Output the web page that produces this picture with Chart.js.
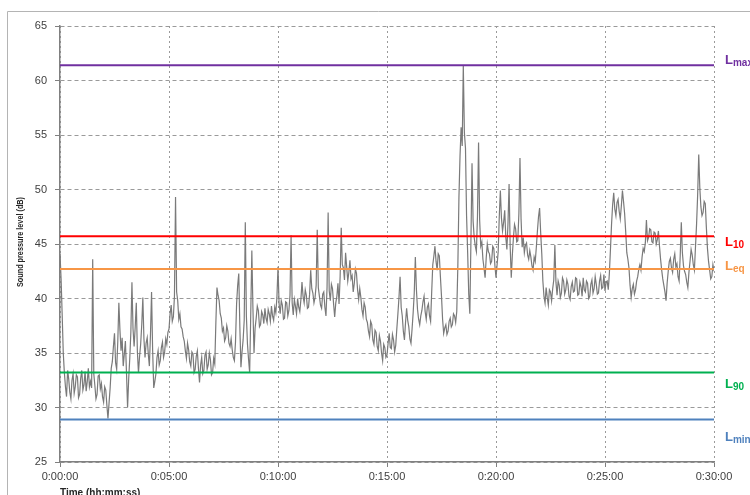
<!DOCTYPE html>
<html>
<head>
<meta charset="utf-8">
<script src="https://cdn.jsdelivr.net/npm/chart.js@4/dist/chart.umd.min.js"></script>
<style>
  html, body { margin: 0; padding: 0; background: #ffffff; }
  #wrap { width: 750px; height: 495px; position: relative; }
</style>
</head>
<body>
<div id="wrap"><canvas id="c" width="750" height="495"></canvas></div>
<script>
// Sampling interval of the measured series (seconds)
const stepSeconds = 3;

// Measured sound pressure level, one value every 3 s from 0:00:00 to 0:30:00 (dB)
const levels = [
  44.1, 41.8, 38.5, 35.0, 33.2, 31.9, 31.0, 33.4, 32.6, 31.4, 30.8, 32.5, 33.1, 31.3, 31.9, 33.0, 32.8, 30.9, 31.2, 32.7,
  33.4, 31.6, 32.1, 33.3, 31.5, 32.4, 33.6, 31.9, 32.4, 31.8, 43.6, 33.1, 32.0, 30.8, 31.2, 32.9, 33.0, 31.7, 32.2, 31.0,
  30.5, 31.9, 31.6, 30.2, 29.0, 30.4, 31.8, 33.6, 34.2, 35.6, 36.8, 34.1, 33.5, 36.0, 39.6, 37.1, 35.2, 36.4, 33.8, 34.9,
  36.1, 33.2, 30.0, 32.6, 34.5, 36.9, 41.5, 37.2, 35.6, 37.4, 39.6, 35.1, 33.2, 34.7, 35.8, 37.6, 40.1, 36.3, 34.6, 35.9,
  36.4, 34.9, 33.8, 36.7, 40.6, 35.2, 31.8, 32.4, 33.1, 34.6, 35.2, 33.9, 34.3, 35.5, 36.0, 34.6, 35.1, 36.3, 35.8, 36.9,
  37.2, 38.6, 39.4, 37.9, 38.3, 40.2, 49.3, 40.6, 39.8, 38.1, 38.6, 37.4, 37.2, 36.5, 36.1, 35.2, 34.5, 35.9, 35.3, 34.2,
  33.8, 35.1, 34.9, 33.2, 33.5, 34.7, 35.2, 33.6, 32.3, 33.9, 34.6, 33.1, 33.4, 34.8, 35.1, 33.5, 33.9, 35.0, 34.4, 33.0,
  33.2, 34.5, 34.0, 37.8, 41.0, 40.3, 39.8, 38.6, 38.2, 37.0, 37.3, 36.1, 36.4, 37.5, 37.0, 35.9, 35.6, 36.3, 35.3, 34.6,
  34.3, 36.0, 39.5, 41.2, 42.3, 37.4, 33.7, 35.1, 36.2, 38.0, 47.0, 38.4, 35.8, 34.4, 33.2, 38.6, 44.4, 39.1, 35.0, 37.3,
  38.2, 39.3, 38.9, 37.4, 37.6, 38.8, 38.5, 37.7, 39.1, 38.2, 37.8, 39.0, 38.6, 37.9, 39.3, 38.4, 38.0, 39.2, 38.7, 40.1,
  42.9, 39.5, 38.6, 39.8, 39.4, 38.1, 38.2, 39.7, 39.6, 38.4, 38.9, 40.3, 45.8, 39.6, 38.5, 39.9, 39.3, 38.6, 40.0, 39.2,
  38.8, 39.9, 41.5, 40.2, 39.6, 40.8, 40.3, 39.1, 39.2, 40.4, 42.6, 40.9, 40.5, 39.6, 40.1, 41.2, 46.3, 41.0, 40.2, 39.4,
  39.1, 40.4, 40.6, 39.2, 38.4, 41.0, 47.9, 40.7, 39.8, 41.3, 40.9, 39.5, 38.3, 39.6, 40.2, 41.4, 39.5, 42.0, 46.5, 43.1,
  42.8, 41.7, 44.2, 42.9, 41.6, 42.4, 43.5, 41.8, 42.1, 40.6, 41.4, 42.7, 42.3, 40.8, 39.9, 40.9, 40.1, 39.0, 38.4, 39.6,
  39.2, 38.1, 37.8, 37.0, 36.5, 37.9, 37.6, 36.2, 35.8, 37.1, 36.9, 35.6, 35.2, 36.6, 36.1, 35.0, 34.3, 35.8, 35.5, 34.6,
  34.8, 35.9, 36.8, 35.5, 35.4, 36.7, 36.2, 35.1, 35.7, 37.2, 38.6, 40.1, 42.0, 39.2, 38.4, 37.0, 36.2, 37.8, 39.1, 38.0,
  37.4, 36.3, 35.9, 37.2, 38.7, 40.5, 43.8, 40.8, 39.0, 38.1, 37.6, 38.4, 38.9, 39.7, 40.2, 38.8, 38.1, 39.2, 39.5, 38.4,
  37.9, 40.6, 43.1, 43.9, 44.8, 43.4, 42.6, 44.1, 43.9, 42.0, 40.2, 38.1, 36.8, 37.3, 37.6, 36.7, 37.0, 37.9, 38.2, 37.4,
  37.6, 38.6, 38.4, 37.8, 38.8, 43.0, 49.3, 53.1, 55.7, 54.0, 61.4, 55.2, 53.8, 47.6, 44.2, 40.4, 38.6, 45.3, 52.4, 47.1,
  45.6, 44.8, 44.3, 47.5, 54.3, 47.2, 44.8, 45.2, 43.6, 42.8, 41.9, 43.7, 45.0, 44.3, 44.1, 43.2, 43.4, 44.8, 44.6, 43.0,
  41.9, 43.1, 44.3, 47.5, 49.9, 47.4, 46.2, 47.0, 48.1, 45.6, 44.5, 46.9, 50.5, 44.8, 41.9, 44.0, 45.6, 46.8, 46.4, 45.2,
  45.3, 47.8, 52.9, 47.3, 44.7, 45.6, 44.2, 44.9, 45.1, 44.0, 43.6, 44.4, 43.8, 43.0, 42.6, 43.8, 43.4, 44.7, 46.2, 47.5,
  48.3, 46.0, 44.1, 41.6, 40.2, 39.6, 41.0, 40.1, 39.4, 40.8, 40.6, 39.8, 40.9, 41.7, 44.9, 41.5, 40.3, 41.6, 41.2, 40.1,
  40.5, 41.9, 41.6, 40.4, 40.8, 41.7, 41.3, 40.2, 39.9, 41.1, 41.5, 40.6, 40.7, 41.9, 41.8, 40.3, 40.4, 41.5, 41.1, 40.2,
  41.9, 40.8, 40.6, 41.6, 41.4, 40.0, 40.2, 41.3, 41.7, 40.5, 40.9, 42.0, 41.3, 40.4, 40.5, 41.6, 42.1, 40.9, 41.0, 42.2,
  40.7, 41.5, 41.6, 40.8, 42.3, 44.5, 46.8, 48.6, 49.7, 48.2, 47.6, 48.8, 49.1, 48.0, 47.3, 48.5, 49.9, 48.9, 47.8, 46.1,
  44.2, 43.6, 42.8, 41.2, 40.1, 40.9, 41.3, 40.4, 40.8, 41.6, 42.0, 42.7, 43.1, 42.6, 43.8, 44.6, 44.3, 45.1, 47.2, 45.3,
  45.6, 46.4, 46.3, 45.2, 45.1, 46.1, 46.0, 45.0, 45.4, 46.2, 44.8, 43.6, 42.6, 41.8, 41.2, 40.6, 39.8, 41.4, 42.5, 43.4,
  43.7, 42.8, 42.4, 43.6, 44.1, 42.9, 43.2, 42.0, 41.6, 43.9, 47.0, 44.2, 43.0, 42.5, 42.2, 41.5, 41.0, 42.4, 43.4, 44.5,
  44.0, 43.1, 42.6, 44.7, 46.8, 49.5, 53.2, 50.1, 48.4, 47.6, 47.9, 48.9, 48.7, 46.5, 44.6, 43.4, 42.6, 41.8, 42.0, 43.1,
  42.5
];

// Statistical levels of the measurement (dB)
const refSubscripts = ['max', '10', 'eq', '90', 'min'];
const refValues     = [61.4, 45.7, 42.7, 33.2, 28.9];
const refColors     = ['#7030A0', '#FF0000', '#F79646', '#00B050', '#4F81BD'];

// Axis ranges and tick labels
const yMin = 25, yMax = 65, yStep = 5;
const xMaxSeconds = 1800, xStepSeconds = 300;
const xTitle = 'Time (hh:mm:ss)';
const yTitle = 'Sound pressure level (dB)';

const fontFamily = "'Liberation Sans', Arial, sans-serif";
const labelShift = [-4.5, 6, -2.5, 12, 18]; // vertical nudge of each level label (px)

function hms(sec) {
  const h = Math.floor(sec / 3600);
  const m = Math.floor((sec % 3600) / 60);
  const s = Math.round(sec % 60);
  return h + ':' + String(m).padStart(2, '0') + ':' + String(s).padStart(2, '0');
}

const seriesPoints = levels.map((v, i) => ({ x: i * stepSeconds, y: v }));

const refDatasets = refValues.map((v, i) => ({
  label: 'L' + refSubscripts[i],
  data: [{ x: 0, y: v }, { x: xMaxSeconds, y: v }],
  borderColor: refColors[i],
  borderWidth: 2,
  pointRadius: 0,
  order: 0
}));

const overlay = {
  id: 'overlay',
  afterDraw(chart) {
    const { ctx, scales: { y } } = chart;
    // outer frame
    ctx.save();
    ctx.strokeStyle = '#b4b4b4';
    ctx.lineWidth = 1;
    ctx.beginPath();
    ctx.moveTo(7.5, 495);
    ctx.lineTo(7.5, 11.5);
    ctx.lineTo(750, 11.5);
    ctx.stroke();
    ctx.restore();

    // y-axis title
    ctx.save();
    ctx.fillStyle = '#262626';
    ctx.font = 'bold 9px ' + fontFamily;
    ctx.translate(21, 242);
    ctx.rotate(-Math.PI / 2);
    const w = ctx.measureText(yTitle).width;
    ctx.scale(90 / w, 1);
    ctx.textAlign = 'center';
    ctx.textBaseline = 'middle';
    ctx.fillText(yTitle, 0, 0);
    ctx.restore();

    // x-axis title
    ctx.save();
    ctx.fillStyle = '#262626';
    ctx.font = 'bold 10px ' + fontFamily;
    ctx.textAlign = 'left';
    ctx.textBaseline = 'middle';
    ctx.fillText(xTitle, 60, 493);
    ctx.restore();

    // level labels on the right
    ctx.save();
    ctx.textBaseline = 'middle';
    ctx.textAlign = 'left';
    refValues.forEach((v, i) => {
      const py = y.getPixelForValue(v) + labelShift[i];
      ctx.fillStyle = refColors[i];
      ctx.font = 'bold 13px ' + fontFamily;
      ctx.fillText('L', 725, py);
      const lw = ctx.measureText('L').width;
      ctx.font = 'bold 10px ' + fontFamily;
      ctx.fillText(refSubscripts[i], 725 + lw, py + 3);
    });
    ctx.restore();
  }
};

new Chart(document.getElementById('c'), {
  type: 'line',
  data: {
    datasets: [
      ...refDatasets,
      {
        label: 'Sound pressure level',
        data: seriesPoints,
        borderColor: '#7a7a7a',
        borderWidth: 1.2,
        pointRadius: 0,
        tension: 0,
        order: 1
      }
    ]
  },
  options: {
    responsive: false,
    devicePixelRatio: 1,
    animation: false,
    layout: { padding: { left: 0, right: 36, top: 26, bottom: 0 } },
    plugins: { legend: { display: false }, tooltip: { enabled: false } },
    scales: {
      x: {
        type: 'linear',
        min: 0,
        max: xMaxSeconds,
        afterFit: s => { s.height = 33; },
        ticks: {
          stepSize: xStepSeconds,
          callback: v => hms(v),
          color: '#404040',
          font: { family: fontFamily, size: 11 },
          maxRotation: 0,
          padding: 3
        },
        grid: {
          color: '#9a9a9a',
          lineWidth: 1,
          tickLength: 5,
          tickColor: '#808080',
          tickBorderDash: []
        },
        border: { display: true, color: '#808080', width: 1.5, dash: [2, 3] }
      },
      y: {
        min: yMin,
        max: yMax,
        afterFit: s => { s.width = 60; },
        ticks: {
          stepSize: yStep,
          color: '#404040',
          font: { family: fontFamily, size: 11 },
          padding: 8
        },
        grid: {
          color: '#9a9a9a',
          lineWidth: 1,
          tickLength: 5,
          tickColor: '#808080',
          tickBorderDash: []
        },
        border: { display: true, color: '#808080', width: 1.5, dash: [4, 3] }
      }
    }
  },
  plugins: [overlay]
});
</script>
</body>
</html>
